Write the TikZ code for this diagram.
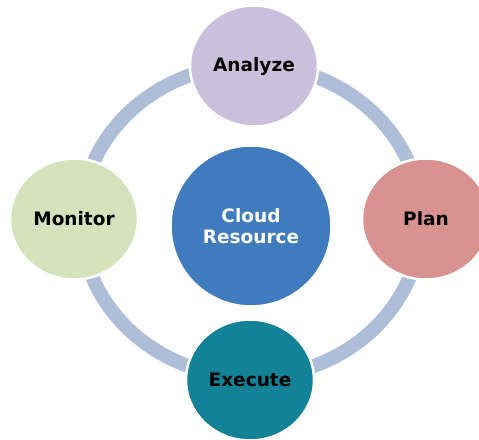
\documentclass[tikz,border=0pt]{standalone}
\usepackage{fontspec}
\setmainfont{DejaVu Sans}
\usetikzlibrary{shapes.geometric}
\definecolor{ringc}{HTML}{AEBED9}
\definecolor{anac}{HTML}{C9C1DB}
\definecolor{planc}{HTML}{D89290}
\definecolor{exec}{HTML}{138196}
\definecolor{monc}{HTML}{D5E2BC}
\definecolor{cenc}{HTML}{407BBD}
\tikzset{
  stage/.style={ellipse, draw=white, line width=2.5pt, minimum width=128pt, minimum height=121pt, inner sep=0pt, font=\fontsize{18.5}{21}\selectfont\bfseries, text=black, align=center},
  hub/.style={circle, draw=white, line width=1.5pt, minimum size=160pt, inner sep=0pt, font=\fontsize{18.5}{21}\selectfont\bfseries, text=white, align=center, fill=cenc},
  ring/.style={draw=ringc, line width=14pt}
}
\begin{document}
\begin{tikzpicture}[x=1pt,y=-1pt]
\useasboundingbox (0,0) rectangle (479,439);
\clip (0,0) rectangle (479,439);
\coordinate (rc) at (251,221);
\draw[ring] (rc) ellipse [x radius=170, y radius=156];
\node[hub] (cloud) at (251,226) {Cloud\\Resource};
\node[stage, fill=anac] (analyze) at (254,66) {Analyze};
\node[stage, fill=planc] (plan) at (426,219) {Plan};
\node[stage, fill=exec] (execute) at (250,380) {Execute};
\node[stage, fill=monc] (monitor) at (74,219) {Monitor};
\end{tikzpicture}
\end{document}
